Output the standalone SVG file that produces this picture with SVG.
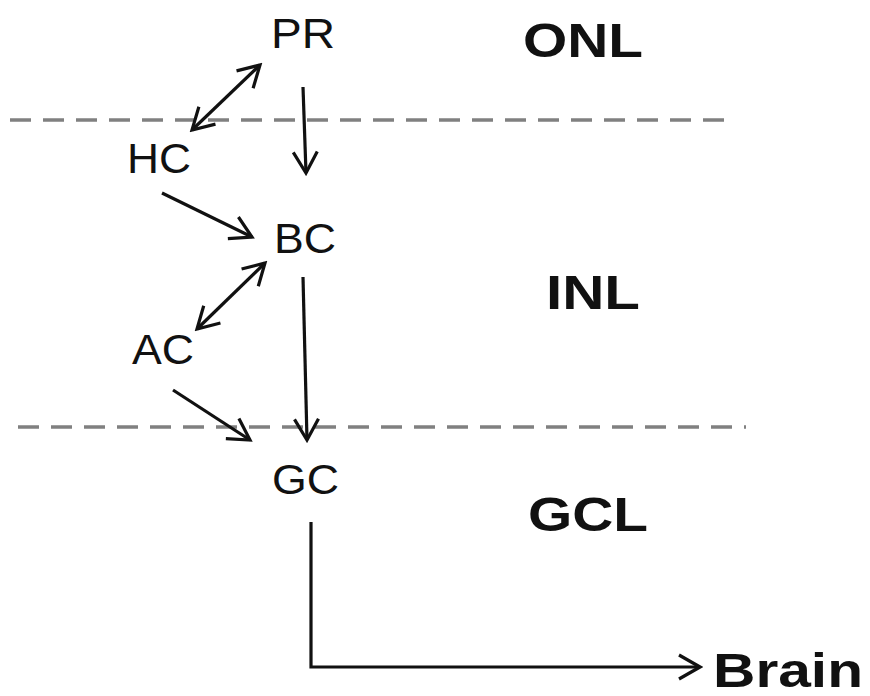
<svg xmlns="http://www.w3.org/2000/svg" width="870" height="696" viewBox="0 0 870 696">
<style>
.lbl{font-family:"Liberation Sans",Arial,sans-serif;font-size:43px;fill:#111}
.layer{font-family:"Liberation Sans",Arial,sans-serif;font-size:48px;font-weight:bold;fill:#111}
.dash{stroke:#808080;stroke-width:3.5;stroke-dasharray:21 12;fill:none}
.conn{stroke:#111;stroke-width:3.2;fill:none}
</style>
<defs>
<marker id="ah" viewBox="0 0 26 28" markerWidth="26" markerHeight="28" refX="23" refY="14" orient="auto-start-reverse" markerUnits="userSpaceOnUse">
<path d="M2,2 L23,14 L2,26" fill="none" stroke="#111" stroke-width="3.2"/>
</marker>
</defs>
<rect width="870" height="696" fill="#fff"/>
<g id="boundaries">
<line class="dash" x1="10" y1="120" x2="736" y2="120"/>
<line class="dash" x1="18" y1="427" x2="746" y2="427"/>
</g>
<g id="layers">
<text class="layer" x="523" y="57" textLength="120" lengthAdjust="spacingAndGlyphs">ONL</text>
<text class="layer" x="546" y="309" textLength="94" lengthAdjust="spacingAndGlyphs">INL</text>
<text class="layer" x="528" y="531" textLength="120" lengthAdjust="spacingAndGlyphs">GCL</text>
</g>
<g id="PR"><text class="lbl" x="271" y="48" textLength="64" lengthAdjust="spacingAndGlyphs">PR</text></g>
<g id="HC"><text class="lbl" x="127" y="173" textLength="64" lengthAdjust="spacingAndGlyphs">HC</text></g>
<g id="BC"><text class="lbl" x="274" y="253" textLength="62" lengthAdjust="spacingAndGlyphs">BC</text></g>
<g id="AC"><text class="lbl" x="132" y="364" textLength="62" lengthAdjust="spacingAndGlyphs">AC</text></g>
<g id="GC"><text class="lbl" x="272" y="494" textLength="67" lengthAdjust="spacingAndGlyphs">GC</text></g>
<g id="Brain"><text class="layer" x="713" y="687" textLength="150" lengthAdjust="spacingAndGlyphs">Brain</text></g>
<g id="connectors">
<line class="conn" x1="260" y1="65" x2="192" y2="130" marker-start="url(#ah)" marker-end="url(#ah)"/>
<line class="conn" x1="303" y1="87" x2="306" y2="173" marker-end="url(#ah)"/>
<line class="conn" x1="162" y1="193" x2="252" y2="237" marker-end="url(#ah)"/>
<line class="conn" x1="265" y1="263" x2="197" y2="329" marker-start="url(#ah)" marker-end="url(#ah)"/>
<line class="conn" x1="303" y1="277" x2="307" y2="440" marker-end="url(#ah)"/>
<line class="conn" x1="173" y1="390" x2="250" y2="440" marker-end="url(#ah)"/>
<polyline class="conn" points="311,522 311,667 700,667" marker-end="url(#ah)"/>
</g>
</svg>
